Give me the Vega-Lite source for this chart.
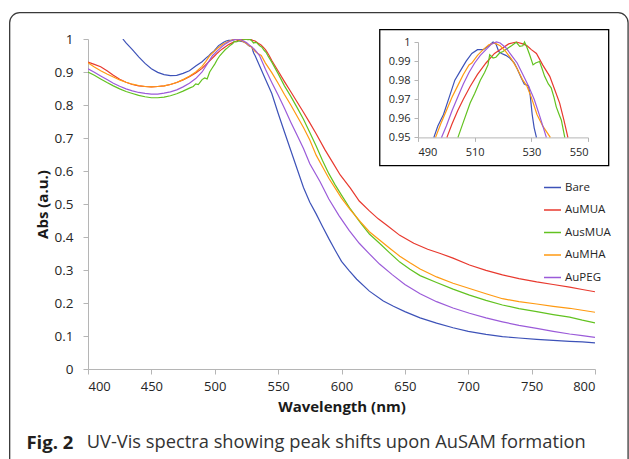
{
  "$schema": "https://vega.github.io/schema/vega-lite/v6.json",
  "width": 507,
  "height": 330,
  "autosize": {"type": "none"},
  "padding": {"left": 88, "top": 39, "right": 34, "bottom": 90},
  "background": "white",
  "config": {
    "view": {"stroke": null},
    "font": "Open Sans",
    "axis": {"grid": false, "domainColor": "#b5b5b5", "tickColor": "#b5b5b5", "labelColor": "#262626", "titleColor": "#1a1a1a", "domainWidth": 1, "tickWidth": 1, "labelOverlap": false}
  },
  "data": {"values": [
    {"s":"Bare","w":427.5,"a":1.0},{"s":"Bare","w":430,"a":0.988},{"s":"Bare","w":435,"a":0.968},{"s":"Bare","w":440,"a":0.946},{"s":"Bare","w":445,"a":0.926},{"s":"Bare","w":450,"a":0.910},{"s":"Bare","w":455,"a":0.899},{"s":"Bare","w":460,"a":0.892},{"s":"Bare","w":465,"a":0.889},{"s":"Bare","w":470,"a":0.890},{"s":"Bare","w":475,"a":0.896},{"s":"Bare","w":480,"a":0.904},{"s":"Bare","w":485,"a":0.918},{"s":"Bare","w":490,"a":0.931},{"s":"Bare","w":493,"a":0.942},{"s":"Bare","w":495.6,"a":0.95},{"s":"Bare","w":497,"a":0.956},{"s":"Bare","w":499,"a":0.962},{"s":"Bare","w":501,"a":0.971},{"s":"Bare","w":503,"a":0.98},{"s":"Bare","w":505,"a":0.985},{"s":"Bare","w":507,"a":0.99},{"s":"Bare","w":509,"a":0.994},{"s":"Bare","w":511,"a":0.996},{"s":"Bare","w":513,"a":0.996},{"s":"Bare","w":515,"a":0.998},{"s":"Bare","w":516.5,"a":1.0},{"s":"Bare","w":517.5,"a":0.999},{"s":"Bare","w":518.5,"a":0.995},{"s":"Bare","w":519.5,"a":0.994},{"s":"Bare","w":521,"a":0.993},{"s":"Bare","w":522.4,"a":0.9916},{"s":"Bare","w":524,"a":0.989},{"s":"Bare","w":525,"a":0.986},{"s":"Bare","w":526.5,"a":0.981},{"s":"Bare","w":527.5,"a":0.978},{"s":"Bare","w":529,"a":0.977},{"s":"Bare","w":529.6,"a":0.972},{"s":"Bare","w":530.3,"a":0.962},{"s":"Bare","w":531,"a":0.955},{"s":"Bare","w":531.8,"a":0.95},{"s":"Bare","w":535,"a":0.922},{"s":"Bare","w":540,"a":0.878},{"s":"Bare","w":545,"a":0.835},{"s":"Bare","w":550,"a":0.775},{"s":"Bare","w":555,"a":0.718},{"s":"Bare","w":560,"a":0.662},{"s":"Bare","w":565,"a":0.606},{"s":"Bare","w":570,"a":0.55},{"s":"Bare","w":575,"a":0.505},{"s":"Bare","w":580,"a":0.47},{"s":"Bare","w":585,"a":0.432},{"s":"Bare","w":590,"a":0.395},{"s":"Bare","w":595,"a":0.36},{"s":"Bare","w":600,"a":0.326},{"s":"Bare","w":606,"a":0.298},{"s":"Bare","w":612,"a":0.272},{"s":"Bare","w":622,"a":0.236},{"s":"Bare","w":633,"a":0.206},{"s":"Bare","w":641,"a":0.19},{"s":"Bare","w":650,"a":0.174},{"s":"Bare","w":662,"a":0.155},{"s":"Bare","w":675,"a":0.139},{"s":"Bare","w":688,"a":0.125},{"s":"Bare","w":700,"a":0.114},{"s":"Bare","w":714,"a":0.105},{"s":"Bare","w":727,"a":0.098},{"s":"Bare","w":740,"a":0.094},{"s":"Bare","w":754,"a":0.09},{"s":"Bare","w":767,"a":0.087},{"s":"Bare","w":780,"a":0.084},{"s":"Bare","w":790,"a":0.082},{"s":"Bare","w":800,"a":0.079},

    {"s":"AuMUA","w":400,"a":0.93},{"s":"AuMUA","w":405,"a":0.923},{"s":"AuMUA","w":410,"a":0.916},{"s":"AuMUA","w":415,"a":0.904},{"s":"AuMUA","w":420,"a":0.89},{"s":"AuMUA","w":425,"a":0.878},{"s":"AuMUA","w":430,"a":0.869},{"s":"AuMUA","w":435,"a":0.862},{"s":"AuMUA","w":440,"a":0.858},{"s":"AuMUA","w":445,"a":0.856},{"s":"AuMUA","w":450,"a":0.855},{"s":"AuMUA","w":455,"a":0.856},{"s":"AuMUA","w":460,"a":0.858},{"s":"AuMUA","w":465,"a":0.862},{"s":"AuMUA","w":470,"a":0.868},{"s":"AuMUA","w":475,"a":0.876},{"s":"AuMUA","w":480,"a":0.886},{"s":"AuMUA","w":485,"a":0.897},{"s":"AuMUA","w":490,"a":0.911},{"s":"AuMUA","w":495,"a":0.93},{"s":"AuMUA","w":500.2,"a":0.95},{"s":"AuMUA","w":502,"a":0.957},{"s":"AuMUA","w":504,"a":0.964},{"s":"AuMUA","w":506,"a":0.97},{"s":"AuMUA","w":508.4,"a":0.9767},{"s":"AuMUA","w":511,"a":0.983},{"s":"AuMUA","w":514,"a":0.989},{"s":"AuMUA","w":517,"a":0.994},{"s":"AuMUA","w":520,"a":0.997},{"s":"AuMUA","w":522,"a":0.999},{"s":"AuMUA","w":524.7,"a":1.0},{"s":"AuMUA","w":527,"a":0.999},{"s":"AuMUA","w":528.5,"a":0.998},{"s":"AuMUA","w":530,"a":0.996},{"s":"AuMUA","w":531.8,"a":0.994},{"s":"AuMUA","w":534,"a":0.988},{"s":"AuMUA","w":536.5,"a":0.982},{"s":"AuMUA","w":538,"a":0.976},{"s":"AuMUA","w":540,"a":0.968},{"s":"AuMUA","w":541.5,"a":0.959},{"s":"AuMUA","w":542.9,"a":0.95},{"s":"AuMUA","w":545,"a":0.935},{"s":"AuMUA","w":550,"a":0.903},{"s":"AuMUA","w":555,"a":0.871},{"s":"AuMUA","w":560,"a":0.84},{"s":"AuMUA","w":565,"a":0.809},{"s":"AuMUA","w":570,"a":0.778},{"s":"AuMUA","w":575,"a":0.746},{"s":"AuMUA","w":580,"a":0.713},{"s":"AuMUA","w":587,"a":0.664},{"s":"AuMUA","w":593,"a":0.626},{"s":"AuMUA","w":599,"a":0.588},{"s":"AuMUA","w":607,"a":0.548},{"s":"AuMUA","w":614,"a":0.509},{"s":"AuMUA","w":622,"a":0.479},{"s":"AuMUA","w":629,"a":0.455},{"s":"AuMUA","w":636,"a":0.435},{"s":"AuMUA","w":646,"a":0.405},{"s":"AuMUA","w":657,"a":0.381},{"s":"AuMUA","w":668,"a":0.363},{"s":"AuMUA","w":678,"a":0.35},{"s":"AuMUA","w":688,"a":0.336},{"s":"AuMUA","w":701,"a":0.315},{"s":"AuMUA","w":714,"a":0.299},{"s":"AuMUA","w":727,"a":0.285},{"s":"AuMUA","w":740,"a":0.274},{"s":"AuMUA","w":754,"a":0.264},{"s":"AuMUA","w":767,"a":0.256},{"s":"AuMUA","w":780,"a":0.248},{"s":"AuMUA","w":790,"a":0.241},{"s":"AuMUA","w":800,"a":0.234},

    {"s":"AusMUA","w":400,"a":0.9},{"s":"AusMUA","w":405,"a":0.89},{"s":"AusMUA","w":410,"a":0.879},{"s":"AusMUA","w":415,"a":0.868},{"s":"AusMUA","w":420,"a":0.858},{"s":"AusMUA","w":425,"a":0.849},{"s":"AusMUA","w":430,"a":0.841},{"s":"AusMUA","w":435,"a":0.835},{"s":"AusMUA","w":440,"a":0.829},{"s":"AusMUA","w":445,"a":0.825},{"s":"AusMUA","w":450,"a":0.822},{"s":"AusMUA","w":455,"a":0.822},{"s":"AusMUA","w":460,"a":0.824},{"s":"AusMUA","w":465,"a":0.828},{"s":"AusMUA","w":470,"a":0.834},{"s":"AusMUA","w":475,"a":0.842},{"s":"AusMUA","w":480,"a":0.851},{"s":"AusMUA","w":483,"a":0.856},{"s":"AusMUA","w":485,"a":0.864},{"s":"AusMUA","w":487,"a":0.862},{"s":"AusMUA","w":490,"a":0.877},{"s":"AusMUA","w":492,"a":0.882},{"s":"AusMUA","w":494,"a":0.879},{"s":"AusMUA","w":496,"a":0.9},{"s":"AusMUA","w":498,"a":0.912},{"s":"AusMUA","w":500,"a":0.924},{"s":"AusMUA","w":502,"a":0.938},{"s":"AusMUA","w":504.1,"a":0.95},{"s":"AusMUA","w":506,"a":0.958},{"s":"AusMUA","w":508.4,"a":0.968},{"s":"AusMUA","w":510,"a":0.973},{"s":"AusMUA","w":512,"a":0.98},{"s":"AusMUA","w":513.5,"a":0.984},{"s":"AusMUA","w":514.7,"a":0.988},{"s":"AusMUA","w":515.3,"a":0.9933},{"s":"AusMUA","w":516.5,"a":0.9916},{"s":"AusMUA","w":517.5,"a":0.992},{"s":"AusMUA","w":518.8,"a":0.9942},{"s":"AusMUA","w":520,"a":0.995},{"s":"AusMUA","w":521.8,"a":0.9969},{"s":"AusMUA","w":523,"a":0.998},{"s":"AusMUA","w":524.7,"a":0.9998},{"s":"AusMUA","w":525.9,"a":0.9977},{"s":"AusMUA","w":527,"a":0.998},{"s":"AusMUA","w":527.6,"a":1.0},{"s":"AusMUA","w":528.5,"a":0.997},{"s":"AusMUA","w":529.4,"a":0.9933},{"s":"AusMUA","w":530.6,"a":0.988},{"s":"AusMUA","w":531.5,"a":0.989},{"s":"AusMUA","w":532.9,"a":0.9898},{"s":"AusMUA","w":533.8,"a":0.986},{"s":"AusMUA","w":534.7,"a":0.982},{"s":"AusMUA","w":536,"a":0.978},{"s":"AusMUA","w":537,"a":0.976},{"s":"AusMUA","w":538,"a":0.971},{"s":"AusMUA","w":538.8,"a":0.966},{"s":"AusMUA","w":539.8,"a":0.962},{"s":"AusMUA","w":540.6,"a":0.959},{"s":"AusMUA","w":541.8,"a":0.95},{"s":"AusMUA","w":545,"a":0.93},{"s":"AusMUA","w":550,"a":0.895},{"s":"AusMUA","w":555,"a":0.858},{"s":"AusMUA","w":560,"a":0.826},{"s":"AusMUA","w":565,"a":0.792},{"s":"AusMUA","w":570,"a":0.757},{"s":"AusMUA","w":575,"a":0.717},{"s":"AusMUA","w":580,"a":0.676},{"s":"AusMUA","w":585,"a":0.632},{"s":"AusMUA","w":590,"a":0.592},{"s":"AusMUA","w":595,"a":0.558},{"s":"AusMUA","w":600,"a":0.527},{"s":"AusMUA","w":607,"a":0.485},{"s":"AusMUA","w":615,"a":0.443},{"s":"AusMUA","w":622,"a":0.409},{"s":"AusMUA","w":630,"a":0.381},{"s":"AusMUA","w":638,"a":0.352},{"s":"AusMUA","w":646,"a":0.324},{"s":"AusMUA","w":654,"a":0.302},{"s":"AusMUA","w":662,"a":0.283},{"s":"AusMUA","w":675,"a":0.262},{"s":"AusMUA","w":688,"a":0.242},{"s":"AusMUA","w":701,"a":0.224},{"s":"AusMUA","w":714,"a":0.208},{"s":"AusMUA","w":727,"a":0.194},{"s":"AusMUA","w":740,"a":0.183},{"s":"AusMUA","w":754,"a":0.174},{"s":"AusMUA","w":767,"a":0.165},{"s":"AusMUA","w":780,"a":0.157},{"s":"AusMUA","w":790,"a":0.148},{"s":"AusMUA","w":800,"a":0.14},

    {"s":"AuMHA","w":400,"a":0.928},{"s":"AuMHA","w":405,"a":0.915},{"s":"AuMHA","w":410,"a":0.904},{"s":"AuMHA","w":415,"a":0.894},{"s":"AuMHA","w":420,"a":0.885},{"s":"AuMHA","w":425,"a":0.876},{"s":"AuMHA","w":430,"a":0.869},{"s":"AuMHA","w":435,"a":0.863},{"s":"AuMHA","w":440,"a":0.859},{"s":"AuMHA","w":445,"a":0.856},{"s":"AuMHA","w":450,"a":0.855},{"s":"AuMHA","w":455,"a":0.856},{"s":"AuMHA","w":460,"a":0.858},{"s":"AuMHA","w":465,"a":0.862},{"s":"AuMHA","w":470,"a":0.868},{"s":"AuMHA","w":475,"a":0.877},{"s":"AuMHA","w":480,"a":0.887},{"s":"AuMHA","w":485,"a":0.9},{"s":"AuMHA","w":490,"a":0.917},{"s":"AuMHA","w":493,"a":0.932},{"s":"AuMHA","w":496.2,"a":0.95},{"s":"AuMHA","w":498,"a":0.957},{"s":"AuMHA","w":500,"a":0.964},{"s":"AuMHA","w":502,"a":0.971},{"s":"AuMHA","w":504,"a":0.977},{"s":"AuMHA","w":506,"a":0.983},{"s":"AuMHA","w":508,"a":0.988},{"s":"AuMHA","w":509,"a":0.989},{"s":"AuMHA","w":511,"a":0.993},{"s":"AuMHA","w":513,"a":0.996},{"s":"AuMHA","w":515,"a":0.9985},{"s":"AuMHA","w":517,"a":0.9995},{"s":"AuMHA","w":519,"a":0.998},{"s":"AuMHA","w":521,"a":0.995},{"s":"AuMHA","w":523,"a":0.991},{"s":"AuMHA","w":525,"a":0.986},{"s":"AuMHA","w":527,"a":0.98},{"s":"AuMHA","w":528.4,"a":0.977},{"s":"AuMHA","w":530,"a":0.971},{"s":"AuMHA","w":532,"a":0.962},{"s":"AuMHA","w":534,"a":0.956},{"s":"AuMHA","w":536.7,"a":0.95},{"s":"AuMHA","w":540,"a":0.927},{"s":"AuMHA","w":545,"a":0.898},{"s":"AuMHA","w":550,"a":0.866},{"s":"AuMHA","w":555,"a":0.832},{"s":"AuMHA","w":560,"a":0.8},{"s":"AuMHA","w":565,"a":0.766},{"s":"AuMHA","w":570,"a":0.732},{"s":"AuMHA","w":575,"a":0.694},{"s":"AuMHA","w":580,"a":0.648},{"s":"AuMHA","w":585,"a":0.613},{"s":"AuMHA","w":590,"a":0.578},{"s":"AuMHA","w":595,"a":0.548},{"s":"AuMHA","w":600,"a":0.518},{"s":"AuMHA","w":607,"a":0.482},{"s":"AuMHA","w":615,"a":0.446},{"s":"AuMHA","w":622,"a":0.416},{"s":"AuMHA","w":630,"a":0.391},{"s":"AuMHA","w":638,"a":0.366},{"s":"AuMHA","w":646,"a":0.342},{"s":"AuMHA","w":654,"a":0.322},{"s":"AuMHA","w":662,"a":0.303},{"s":"AuMHA","w":675,"a":0.279},{"s":"AuMHA","w":688,"a":0.26},{"s":"AuMHA","w":701,"a":0.244},{"s":"AuMHA","w":714,"a":0.228},{"s":"AuMHA","w":727,"a":0.213},{"s":"AuMHA","w":740,"a":0.204},{"s":"AuMHA","w":754,"a":0.197},{"s":"AuMHA","w":767,"a":0.19},{"s":"AuMHA","w":780,"a":0.184},{"s":"AuMHA","w":790,"a":0.178},{"s":"AuMHA","w":800,"a":0.172},

    {"s":"AuPEG","w":400,"a":0.91},{"s":"AuPEG","w":405,"a":0.899},{"s":"AuPEG","w":410,"a":0.888},{"s":"AuPEG","w":415,"a":0.877},{"s":"AuPEG","w":420,"a":0.866},{"s":"AuPEG","w":425,"a":0.857},{"s":"AuPEG","w":430,"a":0.849},{"s":"AuPEG","w":435,"a":0.843},{"s":"AuPEG","w":440,"a":0.838},{"s":"AuPEG","w":445,"a":0.835},{"s":"AuPEG","w":450,"a":0.833},{"s":"AuPEG","w":455,"a":0.833},{"s":"AuPEG","w":460,"a":0.836},{"s":"AuPEG","w":465,"a":0.84},{"s":"AuPEG","w":470,"a":0.846},{"s":"AuPEG","w":475,"a":0.855},{"s":"AuPEG","w":480,"a":0.866},{"s":"AuPEG","w":485,"a":0.88},{"s":"AuPEG","w":490,"a":0.9},{"s":"AuPEG","w":495,"a":0.93},{"s":"AuPEG","w":498.3,"a":0.95},{"s":"AuPEG","w":500,"a":0.956},{"s":"AuPEG","w":502,"a":0.964},{"s":"AuPEG","w":504,"a":0.971},{"s":"AuPEG","w":506,"a":0.978},{"s":"AuPEG","w":508,"a":0.984},{"s":"AuPEG","w":510,"a":0.989},{"s":"AuPEG","w":512,"a":0.993},{"s":"AuPEG","w":514,"a":0.996},{"s":"AuPEG","w":516,"a":0.999},{"s":"AuPEG","w":517.7,"a":1.0},{"s":"AuPEG","w":519,"a":0.9995},{"s":"AuPEG","w":521,"a":0.997},{"s":"AuPEG","w":523,"a":0.993},{"s":"AuPEG","w":525,"a":0.989},{"s":"AuPEG","w":527,"a":0.983},{"s":"AuPEG","w":529,"a":0.977},{"s":"AuPEG","w":531,"a":0.97},{"s":"AuPEG","w":533,"a":0.961},{"s":"AuPEG","w":535.3,"a":0.95},{"s":"AuPEG","w":540,"a":0.908},{"s":"AuPEG","w":545,"a":0.868},{"s":"AuPEG","w":550,"a":0.83},{"s":"AuPEG","w":555,"a":0.79},{"s":"AuPEG","w":560,"a":0.748},{"s":"AuPEG","w":565,"a":0.708},{"s":"AuPEG","w":570,"a":0.668},{"s":"AuPEG","w":575,"a":0.622},{"s":"AuPEG","w":583,"a":0.568},{"s":"AuPEG","w":590,"a":0.515},{"s":"AuPEG","w":598,"a":0.465},{"s":"AuPEG","w":606,"a":0.42},{"s":"AuPEG","w":614,"a":0.381},{"s":"AuPEG","w":622,"a":0.349},{"s":"AuPEG","w":630,"a":0.318},{"s":"AuPEG","w":640,"a":0.286},{"s":"AuPEG","w":650,"a":0.256},{"s":"AuPEG","w":662,"a":0.228},{"s":"AuPEG","w":675,"a":0.204},{"s":"AuPEG","w":688,"a":0.185},{"s":"AuPEG","w":701,"a":0.169},{"s":"AuPEG","w":714,"a":0.155},{"s":"AuPEG","w":727,"a":0.143},{"s":"AuPEG","w":740,"a":0.132},{"s":"AuPEG","w":754,"a":0.123},{"s":"AuPEG","w":767,"a":0.114},{"s":"AuPEG","w":780,"a":0.106},{"s":"AuPEG","w":790,"a":0.101},{"s":"AuPEG","w":800,"a":0.096}
  ]},
  "layer": [
    {
      "layer": [
        {
          "mark": {"type": "line", "strokeWidth": 1.2, "clip": true},
          "encoding": {
            "x": {"field": "w", "type": "quantitative", "scale": {"domain": [400, 800], "nice": false, "zero": false},
              "axis": {"values": [400, 450, 500, 550, 600, 650, 700, 750, 800], "labelOverlap": false, "title": "Wavelength (nm)", "labelFontSize": 13, "titleFontSize": 15, "titleFontWeight": "bold", "tickSize": 5, "labelPadding": 6, "titlePadding": 6}},
            "y": {"field": "a", "type": "quantitative", "scale": {"domain": [0, 1], "nice": false},
              "axis": {"values": [0, 0.1, 0.2, 0.3, 0.4, 0.5, 0.6, 0.7, 0.8, 0.9, 1], "labelOverlap": false, "format": "~g", "title": "Abs (a.u.)", "labelFontSize": 13.5, "titleFontSize": 15, "titleFontWeight": "bold", "tickSize": 5, "labelPadding": 10, "titlePadding": 4}},
            "color": {"field": "s", "type": "nominal",
              "scale": {"domain": ["Bare", "AuMUA", "AusMUA", "AuMHA", "AuPEG"], "range": ["#3d52b8", "#e8392e", "#62c220", "#ff9a12", "#9b5bd9"]},
              "legend": {"orient": "none", "legendX": 455, "legendY": 139, "title": null, "symbolType": "stroke", "symbolSize": 289, "symbolStrokeWidth": 1.5, "labelFontSize": 11.5, "labelColor": "#262626", "rowPadding": 7.5, "labelOffset": 3, "padding": 0}}
          }
        },
        {
          "data": {"values": [{}]},
          "mark": {"type": "rect", "fill": null, "stroke": "#3a3a3a", "strokeWidth": 1.3, "cornerRadius": 10},
          "encoding": {
            "x": {"datum": 338.2, "type": "quantitative", "scale": {"domain": [400, 800], "nice": false, "zero": false},
              "axis": {"values": [400, 450, 500, 550, 600, 650, 700, 750, 800], "labelOverlap": false, "title": "Wavelength (nm)", "labelFontSize": 13, "titleFontSize": 15, "titleFontWeight": "bold", "tickSize": 5, "labelPadding": 6, "titlePadding": 6}},
            "x2": {"datum": 826.1},
            "y": {"datum": 1.0798, "type": "quantitative", "scale": {"domain": [0, 1], "nice": false},
              "axis": {"values": [0, 0.1, 0.2, 0.3, 0.4, 0.5, 0.6, 0.7, 0.8, 0.9, 1], "labelOverlap": false, "format": "~g", "title": "Abs (a.u.)", "labelFontSize": 13.5, "titleFontSize": 15, "titleFontWeight": "bold", "tickSize": 5, "labelPadding": 10, "titlePadding": 4}},
            "y2": {"datum": -0.306}
          }
        },
        {
          "data": {"values": [{}]},
          "mark": {"type": "text", "text": "Fig. 2", "fontWeight": "bold", "fontSize": 18.5, "align": "left", "baseline": "middle", "color": "#231f20"},
          "encoding": {
            "x": {"datum": 351.4, "type": "quantitative", "scale": {"domain": [400, 800], "nice": false, "zero": false},
              "axis": {"values": [400, 450, 500, 550, 600, 650, 700, 750, 800], "labelOverlap": false, "title": "Wavelength (nm)", "labelFontSize": 13, "titleFontSize": 15, "titleFontWeight": "bold", "tickSize": 5, "labelPadding": 6, "titlePadding": 6}},
            "y": {"datum": -0.2236, "type": "quantitative", "scale": {"domain": [0, 1], "nice": false},
              "axis": {"values": [0, 0.1, 0.2, 0.3, 0.4, 0.5, 0.6, 0.7, 0.8, 0.9, 1], "labelOverlap": false, "format": "~g", "title": "Abs (a.u.)", "labelFontSize": 13.5, "titleFontSize": 15, "titleFontWeight": "bold", "tickSize": 5, "labelPadding": 10, "titlePadding": 4}}
          }
        },
        {
          "data": {"values": [{}]},
          "mark": {"type": "text", "text": "UV-Vis spectra showing peak shifts upon AuSAM formation", "fontWeight": "normal", "fontSize": 18.3, "align": "left", "baseline": "middle", "color": "#333333"},
          "encoding": {
            "x": {"datum": 399.0, "type": "quantitative", "scale": {"domain": [400, 800], "nice": false, "zero": false},
              "axis": {"values": [400, 450, 500, 550, 600, 650, 700, 750, 800], "labelOverlap": false, "title": "Wavelength (nm)", "labelFontSize": 13, "titleFontSize": 15, "titleFontWeight": "bold", "tickSize": 5, "labelPadding": 6, "titlePadding": 6}},
            "y": {"datum": -0.2236, "type": "quantitative", "scale": {"domain": [0, 1], "nice": false},
              "axis": {"values": [0, 0.1, 0.2, 0.3, 0.4, 0.5, 0.6, 0.7, 0.8, 0.9, 1], "labelOverlap": false, "format": "~g", "title": "Abs (a.u.)", "labelFontSize": 13.5, "titleFontSize": 15, "titleFontWeight": "bold", "tickSize": 5, "labelPadding": 10, "titlePadding": 4}}
          }
        }
      ]
    },
    {
      "layer": [
        {
          "transform": [{"filter": "datum.a >= 0.95 && datum.w >= 490 && datum.w <= 550"}],
          "mark": {"type": "line", "strokeWidth": 1.2},
          "encoding": {
            "x": {"field": "w", "type": "quantitative", "scale": {"domain": [490, 550], "range": [330, 500], "nice": false, "zero": false},
              "axis": {"orient": "bottom", "offset": -231.6, "values": [490, 510, 530, 550], "labelOverlap": false, "title": null, "labelFontSize": 11, "tickSize": 4, "labelPadding": 5}},
            "y": {"field": "a", "type": "quantitative", "scale": {"domain": [0.95, 1], "range": [98.4, 3], "nice": false, "zero": false},
              "axis": {"orient": "left", "offset": -330, "values": [0.95, 0.96, 0.97, 0.98, 0.99, 1], "labelOverlap": false, "format": "~g", "title": null, "labelFontSize": 11, "tickSize": 4, "labelPadding": 4}},
            "color": {"field": "s", "type": "nominal", "legend": null}
          }
        },
        {
          "data": {"values": [{}]},
          "mark": {"type": "rect", "fill": null, "stroke": "#000000", "strokeWidth": 1.3},
          "encoding": {
            "x": {"datum": 476.5, "type": "quantitative", "scale": {"domain": [490, 550], "range": [330, 500], "nice": false, "zero": false},
              "axis": {"orient": "bottom", "offset": -231.6, "values": [490, 510, 530, 550], "labelOverlap": false, "title": null, "labelFontSize": 11, "tickSize": 4, "labelPadding": 5}},
            "x2": {"datum": 557.3},
            "y": {"datum": 1.00645, "type": "quantitative", "scale": {"domain": [0.95, 1], "range": [98.4, 3], "nice": false, "zero": false},
              "axis": {"orient": "left", "offset": -330, "values": [0.95, 0.96, 0.97, 0.98, 0.99, 1], "labelOverlap": false, "format": "~g", "title": null, "labelFontSize": 11, "tickSize": 4, "labelPadding": 4}},
            "y2": {"datum": 0.93517}
          }
        }
      ]
    }
  ],
  "resolve": {"scale": {"x": "independent", "y": "independent"}, "axis": {"x": "independent", "y": "independent"}}
}
